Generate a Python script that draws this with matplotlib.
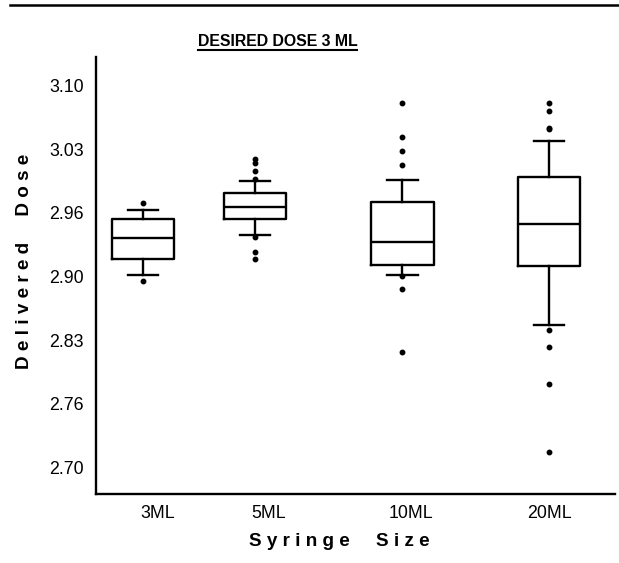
import matplotlib
matplotlib.use("Agg")
import matplotlib.pyplot as plt
from matplotlib.lines import Line2D

# ---------------- data ----------------
categories = ['3ML', '5ML', '10ML', '20ML']
medians = [2.940, 2.973, 2.936, 2.955]
q1 = [2.918, 2.960, 2.912, 2.911]
q3 = [2.960, 2.988, 2.978, 3.0045]
whislo = [2.902, 2.944, 2.902, 2.849]
whishi = [2.9695, 3.000, 3.001, 3.042]
fliers = [
    [2.9775, 2.8956],
    [3.0231, 3.0195, 3.0111, 3.0024, 2.9418, 2.926, 2.918],
    [3.0825, 3.0461, 3.0318, 3.0168, 2.9005, 2.8866, 2.821],
    [3.0818, 3.0741, 3.0562, 3.0545, 2.8438, 2.8263, 2.7868, 2.7154],
]
ytick_values = [2.70 + k * 0.4 / 6 for k in range(7)]
ytick_labels = ['2.70', '2.76', '2.83', '2.90', '2.96', '3.03', '3.10']
title = 'DESIRED DOSE 3 ML'
xlabel = 'Syringe  Size'
ylabel = 'Delivered  Dose'

# ---------------- layout ----------------
box_pos = [1.0, 2.0, 3.32, 4.63]
label_pos = [1.13, 2.12, 3.40, 4.63]
base = 'Liberation Sans'

fig = plt.figure(figsize=(6.19, 5.63), dpi=100)
W, H = 619, 563
ax = fig.add_axes([96 / W, 1 - 494 / H, (615 - 96) / W, (494 - 57) / H])

stats = []
for i in range(len(categories)):
    stats.append(dict(med=medians[i], q1=q1[i], q3=q3[i],
                      whislo=whislo[i], whishi=whishi[i],
                      fliers=fliers[i], label=categories[i]))

lp = dict(color='black', linewidth=1.7)
ax.bxp(stats, positions=box_pos, widths=0.555, capwidths=0.27,
       showfliers=True,
       boxprops=lp, medianprops=lp, whiskerprops=lp, capprops=lp,
       flierprops=dict(marker='o', markersize=3.2, markerfacecolor='black',
                       markeredgecolor='black', linestyle='none'))

ax.set_xlim(0.58, 5.22)
ax.set_ylim(2.6717, 3.1304)
ax.set_xticks(label_pos)
ax.set_xticklabels(categories, fontsize=12.8, family=base)
ax.set_yticks(ytick_values)
ax.set_yticklabels(ytick_labels, fontsize=12.8, family=base)
ax.tick_params(axis='both', length=0)
ax.tick_params(axis='y', pad=9)
ax.tick_params(axis='x', pad=8)
for s in ['top', 'right']:
    ax.spines[s].set_visible(False)
for s in ['left', 'bottom']:
    ax.spines[s].set_linewidth(1.7)

def spaced(t):
    return ' '.join(list(t))

fig.text(25 / W, 1 - 261 / H, spaced(ylabel), rotation=90, ha='center', va='center',
         fontsize=13.6, fontweight='bold', family=base)
fig.text(339 / W, 1 - 542 / H, spaced(xlabel), ha='center', va='center',
         fontsize=13.6, fontweight='bold', family=base)
t = fig.text(277.5 / W, 1 - 46.5 / H, title, ha='center', va='baseline',
             fontsize=11.4, fontweight='bold', family=base)

# underline the title
fig.canvas.draw()
bb = t.get_window_extent(renderer=fig.canvas.get_renderer())
x0, x1 = bb.x0 / W, bb.x1 / W
yu = 1 - 49.5 / H
fig.add_artist(Line2D([x0, x1], [yu, yu], transform=fig.transFigure,
                      color='black', linewidth=1.5))

# top border rule of the page
fig.add_artist(Line2D([10 / W, 1.0], [1 - 5 / H, 1 - 5 / H], transform=fig.transFigure,
                      color='black', linewidth=1.8))

fig.savefig('out.png', dpi=100)
